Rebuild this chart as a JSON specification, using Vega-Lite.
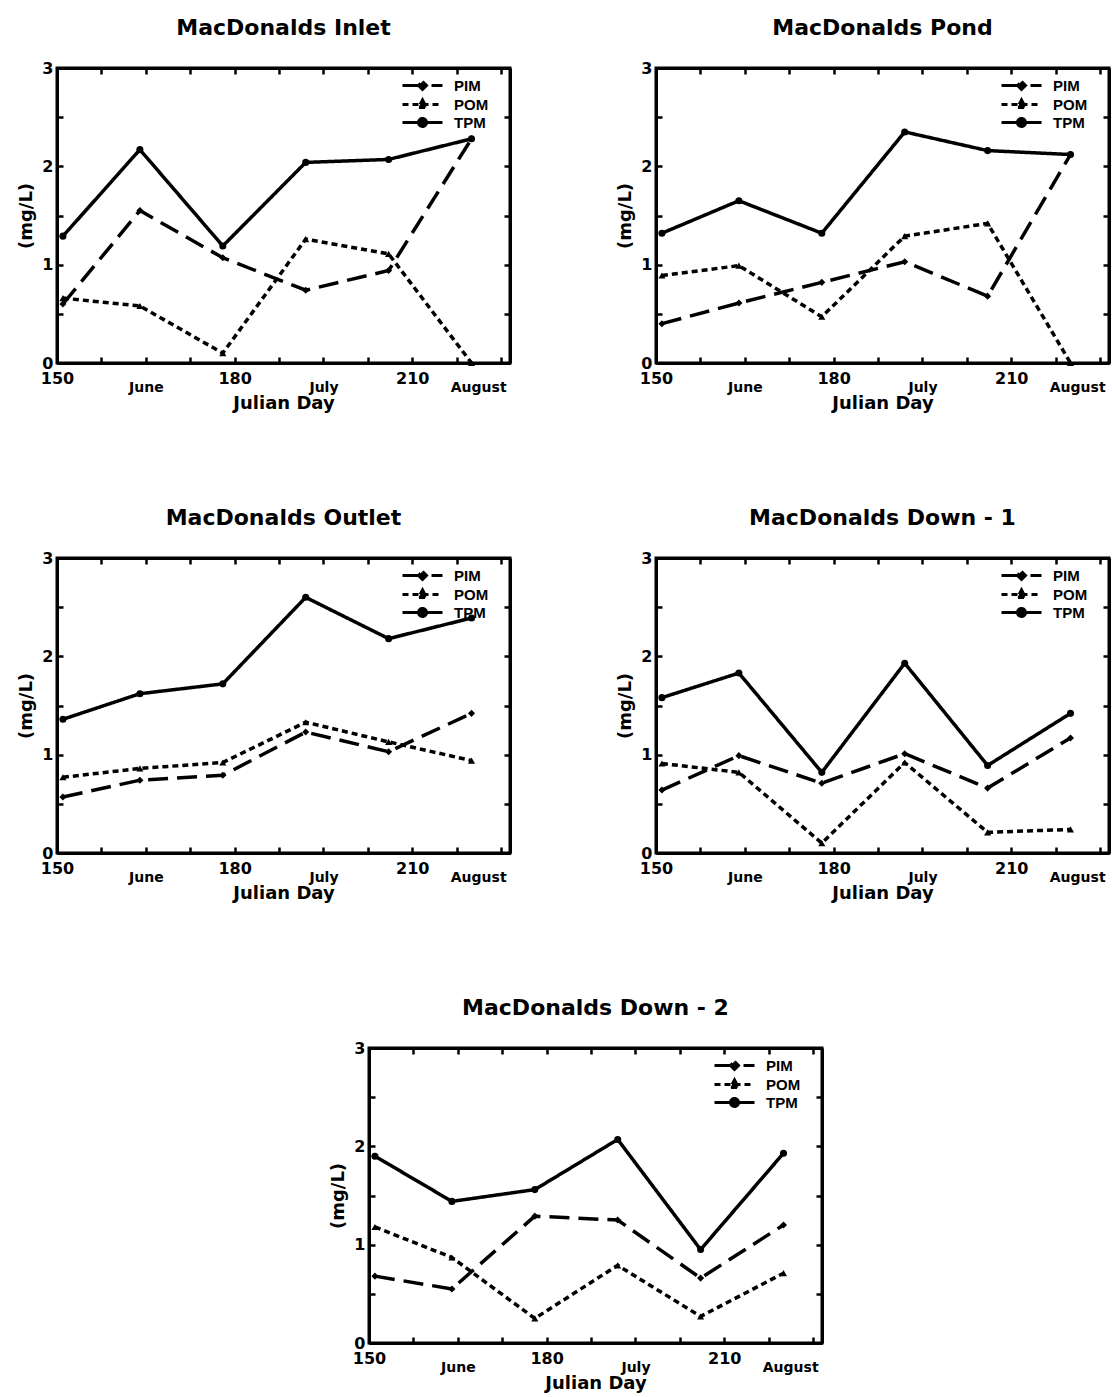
{
"$schema": "https://vega.github.io/schema/vega-lite/v6.json",
"background": "white",
"padding": {"left": 16, "top": 15, "right": 0, "bottom": 0},
"data": {"values": [
{"site":"MacDonalds Inlet","day":151,"PIM":0.60,"POM":0.66,"TPM":1.29},
{"site":"MacDonalds Inlet","day":164,"PIM":1.55,"POM":0.58,"TPM":2.17},
{"site":"MacDonalds Inlet","day":178,"PIM":1.07,"POM":0.10,"TPM":1.19},
{"site":"MacDonalds Inlet","day":192,"PIM":0.74,"POM":1.26,"TPM":2.04},
{"site":"MacDonalds Inlet","day":206,"PIM":0.94,"POM":1.11,"TPM":2.07},
{"site":"MacDonalds Inlet","day":220,"PIM":2.28,"POM":0.00,"TPM":2.28},
{"site":"MacDonalds Pond","day":151,"PIM":0.40,"POM":0.89,"TPM":1.32},
{"site":"MacDonalds Pond","day":164,"PIM":0.61,"POM":0.99,"TPM":1.65},
{"site":"MacDonalds Pond","day":178,"PIM":0.82,"POM":0.47,"TPM":1.32},
{"site":"MacDonalds Pond","day":192,"PIM":1.03,"POM":1.29,"TPM":2.35},
{"site":"MacDonalds Pond","day":206,"PIM":0.68,"POM":1.42,"TPM":2.16},
{"site":"MacDonalds Pond","day":220,"PIM":2.12,"POM":0.00,"TPM":2.12},
{"site":"MacDonalds Outlet","day":151,"PIM":0.57,"POM":0.77,"TPM":1.36},
{"site":"MacDonalds Outlet","day":164,"PIM":0.74,"POM":0.86,"TPM":1.62},
{"site":"MacDonalds Outlet","day":178,"PIM":0.79,"POM":0.92,"TPM":1.72},
{"site":"MacDonalds Outlet","day":192,"PIM":1.23,"POM":1.33,"TPM":2.60},
{"site":"MacDonalds Outlet","day":206,"PIM":1.03,"POM":1.13,"TPM":2.18},
{"site":"MacDonalds Outlet","day":220,"PIM":1.42,"POM":0.94,"TPM":2.39},
{"site":"MacDonalds Down - 1","day":151,"PIM":0.64,"POM":0.91,"TPM":1.58},
{"site":"MacDonalds Down - 1","day":164,"PIM":0.99,"POM":0.82,"TPM":1.83},
{"site":"MacDonalds Down - 1","day":178,"PIM":0.71,"POM":0.10,"TPM":0.82},
{"site":"MacDonalds Down - 1","day":192,"PIM":1.01,"POM":0.92,"TPM":1.93},
{"site":"MacDonalds Down - 1","day":206,"PIM":0.66,"POM":0.21,"TPM":0.89},
{"site":"MacDonalds Down - 1","day":220,"PIM":1.17,"POM":0.24,"TPM":1.42},
{"site":"MacDonalds Down - 2","day":151,"PIM":0.68,"POM":1.18,"TPM":1.90},
{"site":"MacDonalds Down - 2","day":164,"PIM":0.55,"POM":0.87,"TPM":1.44},
{"site":"MacDonalds Down - 2","day":178,"PIM":1.29,"POM":0.25,"TPM":1.56},
{"site":"MacDonalds Down - 2","day":192,"PIM":1.25,"POM":0.79,"TPM":2.07},
{"site":"MacDonalds Down - 2","day":206,"PIM":0.66,"POM":0.27,"TPM":0.95},
{"site":"MacDonalds Down - 2","day":220,"PIM":1.20,"POM":0.71,"TPM":1.93}
]},
"transform": [{"fold": ["PIM","POM","TPM"], "as": ["series","value"]}],
"vconcat": [
{"hconcat": [
{"width":453,"height":295,"title":{"text":"MacDonalds Inlet","font":"DejaVu Sans","fontSize":22,"fontWeight":"bold","color":"black","offset":20},
"transform":[{"filter":"datum.site === 'MacDonalds Inlet'"}],
"layer":[
{"mark":{"type":"line","strokeWidth":3.5,"color":"black"},
"encoding":{
"x":{"field":"day","type":"quantitative","scale":{"domain":[150,226.5],"nice":false,"zero":false},"axis":{"values":[150,157.5,165,172.5,180,187.5,195,202.5,210,217.5,225],"labelExpr":"datum.value == 150 ? '150' : datum.value == 180 ? '180' : datum.value == 210 ? '210' : datum.value == 165 ? 'June' : datum.value == 195 ? 'July' : datum.value == 225 ? 'August' : ''","labelFontSize":{"condition":{"test":"datum.value == 165 || datum.value == 195 || datum.value == 225","value":14},"value":16},"labelPadding":{"condition":{"test":"datum.value == 165 || datum.value == 195 || datum.value == 225","value":23},"value":13},"labelAlign":{"condition":{"test":"datum.value == 225","value":"right"},"value":"center"},"labelOffset":{"condition":{"test":"datum.value == 225","value":5},"value":0},"labelOverlap":false,"labelBound":false,"labelFlush":false,"title":"Julian Day","titlePadding":0}},
"y":{"field":"value","type":"quantitative","scale":{"domain":[0,3],"nice":false},"axis":{"values":[0,0.5,1,1.5,2,2.5,3],"labelExpr":"datum.value % 1 == 0 ? format(datum.value, 'd') : ''","labelPadding":10,"title":"(mg/L)","titlePadding":6}},
"strokeDash":{"field":"series","type":"nominal","scale":{"domain":["PIM","POM","TPM"],"range":[[20,9],[6,4],[1,0]]},"legend":{"encode":{"symbols":{"update":{"shape":{"signal":"datum.value === 'PIM' ? 'M-4,0H4M0,-0.8L0.8,0L0,0.8L-0.8,0Z' : datum.value === 'POM' ? 'M-4,0H4M0,-0.9L0.8,0.6L-0.8,0.6Z' : 'M-4,0H4M0.8,0A0.8,0.8,0,1,1,-0.8,0A0.8,0.8,0,1,1,0.8,0Z'"}}}}}}
}},
{"mark":{"type":"point","filled":true,"color":"black","opacity":1,"size":50},
"encoding":{"x":{"field":"day","type":"quantitative","axis":null},"y":{"field":"value","type":"quantitative","axis":null},"shape":{"field":"series","type":"nominal","scale":{"domain":["PIM","POM","TPM"],"range":["diamond","triangle-up","circle"]},"legend":null}}},
{"mark":{"type":"line","opacity":0},
"encoding":{"x":{"field":"day","type":"quantitative","axis":{"orient":"top","labels":false,"title":null,"values":[150,157.5,165,172.5,180,187.5,195,202.5,210,217.5,225]}},"y":{"field":"value","type":"quantitative","axis":{"orient":"right","labels":false,"title":null,"values":[0,0.5,1,1.5,2,2.5,3]}},"detail":{"field":"series"}}}
],
"resolve":{"axis":{"x":"independent","y":"independent"}}},
{"width":453,"height":295,"title":{"text":"MacDonalds Pond","font":"DejaVu Sans","fontSize":22,"fontWeight":"bold","color":"black","offset":20},
"transform":[{"filter":"datum.site === 'MacDonalds Pond'"}],
"layer":[
{"mark":{"type":"line","strokeWidth":3.5,"color":"black"},
"encoding":{
"x":{"field":"day","type":"quantitative","scale":{"domain":[150,226.5],"nice":false,"zero":false},"axis":{"values":[150,157.5,165,172.5,180,187.5,195,202.5,210,217.5,225],"labelExpr":"datum.value == 150 ? '150' : datum.value == 180 ? '180' : datum.value == 210 ? '210' : datum.value == 165 ? 'June' : datum.value == 195 ? 'July' : datum.value == 225 ? 'August' : ''","labelFontSize":{"condition":{"test":"datum.value == 165 || datum.value == 195 || datum.value == 225","value":14},"value":16},"labelPadding":{"condition":{"test":"datum.value == 165 || datum.value == 195 || datum.value == 225","value":23},"value":13},"labelAlign":{"condition":{"test":"datum.value == 225","value":"right"},"value":"center"},"labelOffset":{"condition":{"test":"datum.value == 225","value":5},"value":0},"labelOverlap":false,"labelBound":false,"labelFlush":false,"title":"Julian Day","titlePadding":0}},
"y":{"field":"value","type":"quantitative","scale":{"domain":[0,3],"nice":false},"axis":{"values":[0,0.5,1,1.5,2,2.5,3],"labelExpr":"datum.value % 1 == 0 ? format(datum.value, 'd') : ''","labelPadding":10,"title":"(mg/L)","titlePadding":6}},
"strokeDash":{"field":"series","type":"nominal","scale":{"domain":["PIM","POM","TPM"],"range":[[20,9],[6,4],[1,0]]},"legend":{"encode":{"symbols":{"update":{"shape":{"signal":"datum.value === 'PIM' ? 'M-4,0H4M0,-0.8L0.8,0L0,0.8L-0.8,0Z' : datum.value === 'POM' ? 'M-4,0H4M0,-0.9L0.8,0.6L-0.8,0.6Z' : 'M-4,0H4M0.8,0A0.8,0.8,0,1,1,-0.8,0A0.8,0.8,0,1,1,0.8,0Z'"}}}}}}
}},
{"mark":{"type":"point","filled":true,"color":"black","opacity":1,"size":50},
"encoding":{"x":{"field":"day","type":"quantitative","axis":null},"y":{"field":"value","type":"quantitative","axis":null},"shape":{"field":"series","type":"nominal","scale":{"domain":["PIM","POM","TPM"],"range":["diamond","triangle-up","circle"]},"legend":null}}},
{"mark":{"type":"line","opacity":0},
"encoding":{"x":{"field":"day","type":"quantitative","axis":{"orient":"top","labels":false,"title":null,"values":[150,157.5,165,172.5,180,187.5,195,202.5,210,217.5,225]}},"y":{"field":"value","type":"quantitative","axis":{"orient":"right","labels":false,"title":null,"values":[0,0.5,1,1.5,2,2.5,3]}},"detail":{"field":"series"}}}
],
"resolve":{"axis":{"x":"independent","y":"independent"}}}
],"spacing":102,"resolve":{"scale":{"strokeDash":"independent"},"legend":{"strokeDash":"independent"}}},
{"hconcat": [
{"width":453,"height":295,"title":{"text":"MacDonalds Outlet","font":"DejaVu Sans","fontSize":22,"fontWeight":"bold","color":"black","offset":20},
"transform":[{"filter":"datum.site === 'MacDonalds Outlet'"}],
"layer":[
{"mark":{"type":"line","strokeWidth":3.5,"color":"black"},
"encoding":{
"x":{"field":"day","type":"quantitative","scale":{"domain":[150,226.5],"nice":false,"zero":false},"axis":{"values":[150,157.5,165,172.5,180,187.5,195,202.5,210,217.5,225],"labelExpr":"datum.value == 150 ? '150' : datum.value == 180 ? '180' : datum.value == 210 ? '210' : datum.value == 165 ? 'June' : datum.value == 195 ? 'July' : datum.value == 225 ? 'August' : ''","labelFontSize":{"condition":{"test":"datum.value == 165 || datum.value == 195 || datum.value == 225","value":14},"value":16},"labelPadding":{"condition":{"test":"datum.value == 165 || datum.value == 195 || datum.value == 225","value":23},"value":13},"labelAlign":{"condition":{"test":"datum.value == 225","value":"right"},"value":"center"},"labelOffset":{"condition":{"test":"datum.value == 225","value":5},"value":0},"labelOverlap":false,"labelBound":false,"labelFlush":false,"title":"Julian Day","titlePadding":0}},
"y":{"field":"value","type":"quantitative","scale":{"domain":[0,3],"nice":false},"axis":{"values":[0,0.5,1,1.5,2,2.5,3],"labelExpr":"datum.value % 1 == 0 ? format(datum.value, 'd') : ''","labelPadding":10,"title":"(mg/L)","titlePadding":6}},
"strokeDash":{"field":"series","type":"nominal","scale":{"domain":["PIM","POM","TPM"],"range":[[20,9],[6,4],[1,0]]},"legend":{"encode":{"symbols":{"update":{"shape":{"signal":"datum.value === 'PIM' ? 'M-4,0H4M0,-0.8L0.8,0L0,0.8L-0.8,0Z' : datum.value === 'POM' ? 'M-4,0H4M0,-0.9L0.8,0.6L-0.8,0.6Z' : 'M-4,0H4M0.8,0A0.8,0.8,0,1,1,-0.8,0A0.8,0.8,0,1,1,0.8,0Z'"}}}}}}
}},
{"mark":{"type":"point","filled":true,"color":"black","opacity":1,"size":50},
"encoding":{"x":{"field":"day","type":"quantitative","axis":null},"y":{"field":"value","type":"quantitative","axis":null},"shape":{"field":"series","type":"nominal","scale":{"domain":["PIM","POM","TPM"],"range":["diamond","triangle-up","circle"]},"legend":null}}},
{"mark":{"type":"line","opacity":0},
"encoding":{"x":{"field":"day","type":"quantitative","axis":{"orient":"top","labels":false,"title":null,"values":[150,157.5,165,172.5,180,187.5,195,202.5,210,217.5,225]}},"y":{"field":"value","type":"quantitative","axis":{"orient":"right","labels":false,"title":null,"values":[0,0.5,1,1.5,2,2.5,3]}},"detail":{"field":"series"}}}
],
"resolve":{"axis":{"x":"independent","y":"independent"}}},
{"width":453,"height":295,"title":{"text":"MacDonalds Down - 1","font":"DejaVu Sans","fontSize":22,"fontWeight":"bold","color":"black","offset":20},
"transform":[{"filter":"datum.site === 'MacDonalds Down - 1'"}],
"layer":[
{"mark":{"type":"line","strokeWidth":3.5,"color":"black"},
"encoding":{
"x":{"field":"day","type":"quantitative","scale":{"domain":[150,226.5],"nice":false,"zero":false},"axis":{"values":[150,157.5,165,172.5,180,187.5,195,202.5,210,217.5,225],"labelExpr":"datum.value == 150 ? '150' : datum.value == 180 ? '180' : datum.value == 210 ? '210' : datum.value == 165 ? 'June' : datum.value == 195 ? 'July' : datum.value == 225 ? 'August' : ''","labelFontSize":{"condition":{"test":"datum.value == 165 || datum.value == 195 || datum.value == 225","value":14},"value":16},"labelPadding":{"condition":{"test":"datum.value == 165 || datum.value == 195 || datum.value == 225","value":23},"value":13},"labelAlign":{"condition":{"test":"datum.value == 225","value":"right"},"value":"center"},"labelOffset":{"condition":{"test":"datum.value == 225","value":5},"value":0},"labelOverlap":false,"labelBound":false,"labelFlush":false,"title":"Julian Day","titlePadding":0}},
"y":{"field":"value","type":"quantitative","scale":{"domain":[0,3],"nice":false},"axis":{"values":[0,0.5,1,1.5,2,2.5,3],"labelExpr":"datum.value % 1 == 0 ? format(datum.value, 'd') : ''","labelPadding":10,"title":"(mg/L)","titlePadding":6}},
"strokeDash":{"field":"series","type":"nominal","scale":{"domain":["PIM","POM","TPM"],"range":[[20,9],[6,4],[1,0]]},"legend":{"encode":{"symbols":{"update":{"shape":{"signal":"datum.value === 'PIM' ? 'M-4,0H4M0,-0.8L0.8,0L0,0.8L-0.8,0Z' : datum.value === 'POM' ? 'M-4,0H4M0,-0.9L0.8,0.6L-0.8,0.6Z' : 'M-4,0H4M0.8,0A0.8,0.8,0,1,1,-0.8,0A0.8,0.8,0,1,1,0.8,0Z'"}}}}}}
}},
{"mark":{"type":"point","filled":true,"color":"black","opacity":1,"size":50},
"encoding":{"x":{"field":"day","type":"quantitative","axis":null},"y":{"field":"value","type":"quantitative","axis":null},"shape":{"field":"series","type":"nominal","scale":{"domain":["PIM","POM","TPM"],"range":["diamond","triangle-up","circle"]},"legend":null}}},
{"mark":{"type":"line","opacity":0},
"encoding":{"x":{"field":"day","type":"quantitative","axis":{"orient":"top","labels":false,"title":null,"values":[150,157.5,165,172.5,180,187.5,195,202.5,210,217.5,225]}},"y":{"field":"value","type":"quantitative","axis":{"orient":"right","labels":false,"title":null,"values":[0,0.5,1,1.5,2,2.5,3]}},"detail":{"field":"series"}}}
],
"resolve":{"axis":{"x":"independent","y":"independent"}}}
],"spacing":102,"resolve":{"scale":{"strokeDash":"independent"},"legend":{"strokeDash":"independent"}}},
{"hconcat": [
{"width":271,"height":295,"mark":{"type":"point","opacity":0},"encoding":{},"view":{"stroke":null}},
{"width":453,"height":295,"title":{"text":"MacDonalds Down - 2","font":"DejaVu Sans","fontSize":22,"fontWeight":"bold","color":"black","offset":20},
"transform":[{"filter":"datum.site === 'MacDonalds Down - 2'"}],
"layer":[
{"mark":{"type":"line","strokeWidth":3.5,"color":"black"},
"encoding":{
"x":{"field":"day","type":"quantitative","scale":{"domain":[150,226.5],"nice":false,"zero":false},"axis":{"values":[150,157.5,165,172.5,180,187.5,195,202.5,210,217.5,225],"labelExpr":"datum.value == 150 ? '150' : datum.value == 180 ? '180' : datum.value == 210 ? '210' : datum.value == 165 ? 'June' : datum.value == 195 ? 'July' : datum.value == 225 ? 'August' : ''","labelFontSize":{"condition":{"test":"datum.value == 165 || datum.value == 195 || datum.value == 225","value":14},"value":16},"labelPadding":{"condition":{"test":"datum.value == 165 || datum.value == 195 || datum.value == 225","value":23},"value":13},"labelAlign":{"condition":{"test":"datum.value == 225","value":"right"},"value":"center"},"labelOffset":{"condition":{"test":"datum.value == 225","value":5},"value":0},"labelOverlap":false,"labelBound":false,"labelFlush":false,"title":"Julian Day","titlePadding":0}},
"y":{"field":"value","type":"quantitative","scale":{"domain":[0,3],"nice":false},"axis":{"values":[0,0.5,1,1.5,2,2.5,3],"labelExpr":"datum.value % 1 == 0 ? format(datum.value, 'd') : ''","labelPadding":10,"title":"(mg/L)","titlePadding":6}},
"strokeDash":{"field":"series","type":"nominal","scale":{"domain":["PIM","POM","TPM"],"range":[[20,9],[6,4],[1,0]]},"legend":{"encode":{"symbols":{"update":{"shape":{"signal":"datum.value === 'PIM' ? 'M-4,0H4M0,-0.8L0.8,0L0,0.8L-0.8,0Z' : datum.value === 'POM' ? 'M-4,0H4M0,-0.9L0.8,0.6L-0.8,0.6Z' : 'M-4,0H4M0.8,0A0.8,0.8,0,1,1,-0.8,0A0.8,0.8,0,1,1,0.8,0Z'"}}}}}}
}},
{"mark":{"type":"point","filled":true,"color":"black","opacity":1,"size":50},
"encoding":{"x":{"field":"day","type":"quantitative","axis":null},"y":{"field":"value","type":"quantitative","axis":null},"shape":{"field":"series","type":"nominal","scale":{"domain":["PIM","POM","TPM"],"range":["diamond","triangle-up","circle"]},"legend":null}}},
{"mark":{"type":"line","opacity":0},
"encoding":{"x":{"field":"day","type":"quantitative","axis":{"orient":"top","labels":false,"title":null,"values":[150,157.5,165,172.5,180,187.5,195,202.5,210,217.5,225]}},"y":{"field":"value","type":"quantitative","axis":{"orient":"right","labels":false,"title":null,"values":[0,0.5,1,1.5,2,2.5,3]}},"detail":{"field":"series"}}}
],
"resolve":{"axis":{"x":"independent","y":"independent"}}}
],"spacing":0,"resolve":{"scale":{"strokeDash":"independent"},"legend":{"strokeDash":"independent"}}}
],
"spacing": 91,
"resolve": {"scale":{"strokeDash":"independent"},"legend": {"strokeDash": "independent"}},
"config": {
"view": {"stroke": "black", "strokeWidth": 3},
"axis": {"domainColor": "black", "domainWidth": 3, "tickColor": "black", "tickWidth": 2.5, "tickSize": -6, "grid": false, "labelFont": "DejaVu Sans", "labelFontWeight": "bold", "labelColor": "black", "labelFontSize": 16, "titleFont": "DejaVu Sans", "titleFontWeight": "bold", "titleColor": "black", "titleFontSize": 18},
"legend": {"title": null, "orient": "none", "legendX": 358, "legendY": 10, "padding": 0, "symbolType": "stroke", "symbolSize": 100, "symbolStrokeWidth": 3, "symbolStrokeColor": "black", "symbolFillColor": "black", "labelFont": "Liberation Sans", "labelFontSize": 15, "labelFontWeight": "bold", "labelColor": "black", "labelOffset": 24, "rowPadding": -2}
}
}
